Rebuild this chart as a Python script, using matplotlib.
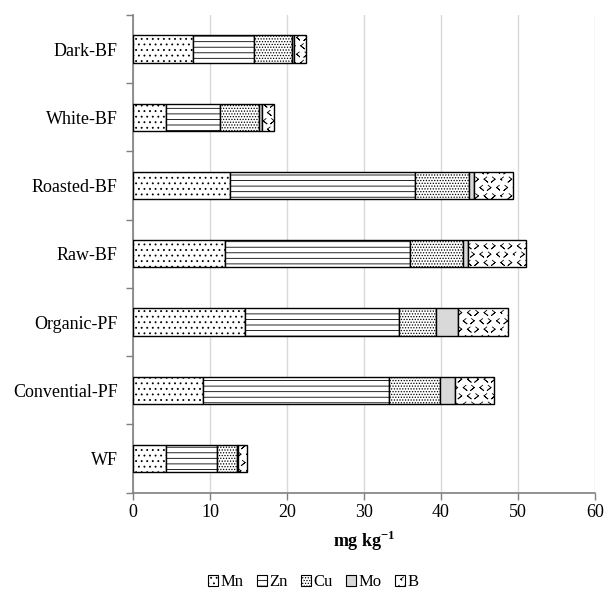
import warnings
import numpy as np
import matplotlib
matplotlib.use("Agg")
import matplotlib.pyplot as plt
from matplotlib import hatch as mhatch
from matplotlib.path import Path
from matplotlib.patches import Patch

warnings.filterwarnings("ignore")

# data (mg kg-1), bottom to top
samples = ["WF", "Convential-PF", "Organic-PF", "Raw-BF", "Roasted-BF", "White-BF", "Dark-BF"]
mn = [4.33, 9.13, 14.58, 11.99, 12.55, 4.33, 7.80]
zn = [6.62, 24.07, 19.92, 24.01, 24.05, 6.97, 7.95]
cu = [2.50, 6.60, 4.90, 6.90, 7.00, 5.05, 4.85]
mo = [0.15, 2.00, 2.80, 0.66, 0.70, 0.45, 0.30]
b = [1.15, 5.10, 6.55, 7.44, 5.05, 1.50, 1.60]
elements = ["Mn", "Zn", "Cu", "Mo", "B"]


# chevron hatch ('v') -- no built-in one looks like the < > pattern
class ChevronHatch(mhatch.HatchPatternBase):
    def __init__(self, hatch, density):
        self.n = hatch.count('v') * density
        self.num_vertices = self.n * self.n * 4

    def set_vertices_and_codes(self, vertices, codes):
        n = self.n
        w = 0.16 / n
        h = 0.26 / n
        k = 0
        for i in range(n):
            for j in range(n):
                cx = (i + 0.25 + 0.5 * (j % 2)) / n
                cy = (j + 0.5) / n
                s = 1 if (i + j) % 2 == 0 else -1
                pts = [(cx + s * w, cy + h), (cx - s * w, cy), (cx + s * w, cy - h), (cx - s * w, cy)]
                vertices[k:k + 4] = pts
                codes[k:k + 4] = [Path.MOVETO, Path.LINETO, Path.LINETO, Path.LINETO]
                k += 4
        # last LINETO just retraces, keeps fill area at zero
        vertices[3::4] = vertices[1::4]


mhatch._hatch_types.append(ChevronHatch)

plt.rcParams['font.family'] = ['Liberation Serif', 'DejaVu Serif']
plt.rcParams['mathtext.fontset'] = 'custom'
plt.rcParams['mathtext.rm'] = 'Liberation Serif'
plt.rcParams['mathtext.bf'] = 'Liberation Serif:bold'
plt.rcParams['hatch.linewidth'] = 0.6

fs = 13

fig = plt.figure(figsize=(6.04, 5.9), dpi=100)
ax = fig.add_axes([0.2202, 0.1649, 0.765, 0.8097])

y = np.arange(len(samples))
series = [mn, zn, cu, mo, b]
hatches = ['...', '---', '......', None, 'vv']
fills = ['white', 'white', 'white', '#d9d9d9', 'white']

left = np.zeros(len(samples))
for vals, ht, fc in zip(series, hatches, fills):
    ax.barh(y, vals, left=left, height=0.4, color=fc, hatch=ht,
            edgecolor='black', linewidth=1.0, zorder=3)
    left += np.array(vals)

ax.set_xlim(0, 60)
ax.set_ylim(-0.5, len(samples) - 0.5)
ax.set_xticks(range(0, 61, 10))
ax.set_yticks(y)
ax.set_yticklabels(samples)
ax.set_yticks(np.arange(-0.5, len(samples), 1), minor=True)
ax.tick_params(axis='y', which='major', length=0, pad=11, labelsize=fs)
ax.tick_params(axis='y', which='minor', length=5, width=1, color='#7f7f7f')
ax.tick_params(axis='x', length=5, width=1, color='#7f7f7f', pad=3, labelsize=fs)

ax.grid(axis='x', color='#d9d9d9', linewidth=1, zorder=0)
ax.set_axisbelow(True)
for side in ['top', 'right']:
    ax.spines[side].set_visible(False)
for side in ['left', 'bottom']:
    ax.spines[side].set_color('#7f7f7f')
    ax.spines[side].set_linewidth(1.2)

ax.set_xlabel(r'mg kg$^{\mathbf{-1}}$', fontsize=fs, fontweight='bold')
ax.xaxis.set_label_coords(0.5, -0.075)

handles = [Patch(facecolor=fc, edgecolor='black', hatch=ht, linewidth=0.8)
           for ht, fc in zip(hatches, fills)]
fig.legend(handles, elements, loc='center', bbox_to_anchor=(0.519, 0.013), ncol=5,
           frameon=False, handlelength=0.6, handleheight=0.6, handletextpad=0.15,
           columnspacing=0.8, fontsize=12)

fig.savefig('out.png', dpi=100)
